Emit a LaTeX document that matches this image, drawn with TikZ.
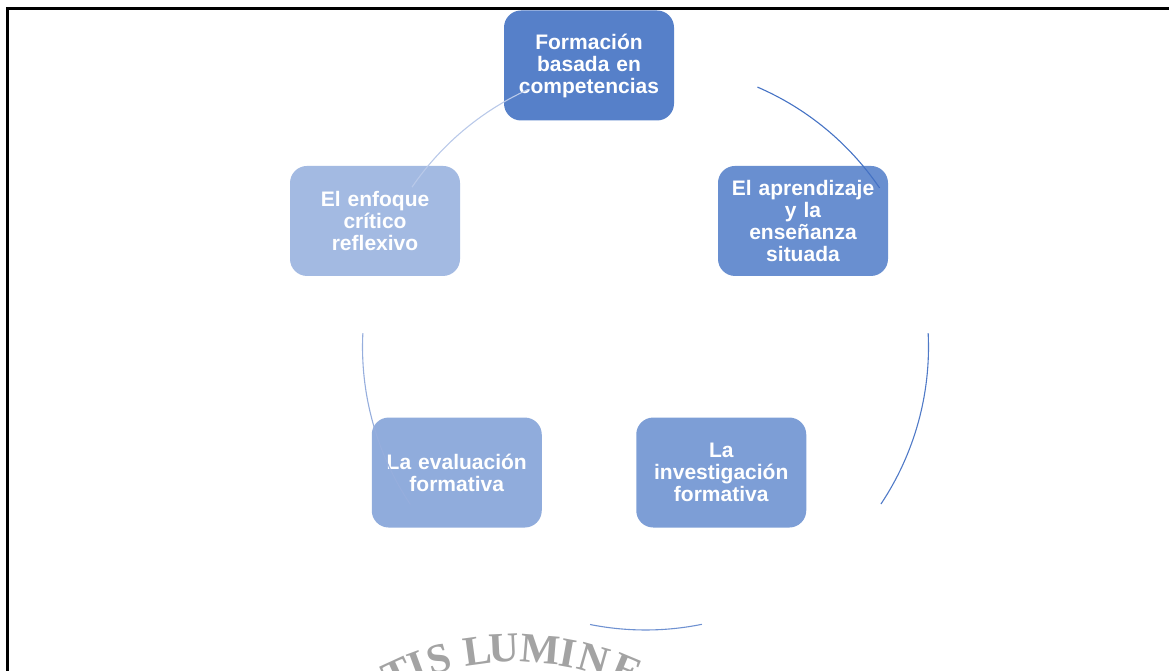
\documentclass[tikz,border=0pt]{standalone}
\usepackage{fontspec}
\setmainfont{Liberation Sans}
\newfontfamily\sealfont{Liberation Serif}
\usetikzlibrary{arrows.meta}
\definecolor{boxA}{RGB}{86,128,201}
\definecolor{boxB}{RGB}{105,143,208}
\definecolor{boxC}{RGB}{125,158,214}
\definecolor{boxD}{RGB}{144,172,220}
\definecolor{boxE}{RGB}{163,186,226}
\definecolor{arcA}{RGB}{68,114,196}
\definecolor{arcB}{RGB}{80,122,199}
\definecolor{arcC}{RGB}{110,145,209}
\definecolor{arcD}{RGB}{150,174,221}
\definecolor{arcE}{RGB}{185,201,233}

\begin{document}
\begin{tikzpicture}[x=1pt,y=1pt,semithick,
				box/.style={rectangle,rounded corners=17pt,minimum width=170pt,minimum height=110pt,
					inner sep=0pt,text width=166pt,align=center,text=white,
					font=\bfseries\fontsize{21}{22}\selectfont},
				ring/.style={line width=1.1pt},
				seal/.style={anchor=base,inner sep=0pt,text=black!36,font=\sealfont\bfseries\fontsize{42}{42}\selectfont}]
				\useasboundingbox (0,0) rectangle (1169,671);
				
				\coordinate (O) at (589,380.5);
				\coordinate (R) at (645.5,324);
				\coordinate (W) at (516.5,-263);
				
				% watermark
				\foreach \ch/\ang [count=\k] in {T/114.6,I/110.4,S/105.8,L/97.8,U/92.6,M/85.2,I/79.6,N/74.2,E/67.4}
					\node[seal,rotate=\ang-90] (w\k) at ([shift={(\ang:272)}]W) {\ch};
				
				% frame
				\draw[line width=3pt] (7,-5) -- (7,662) -- (1175,662);
				
				\node[box,fill=boxA] (F) at ([shift={(90:225)}]O)   {Formación\\basada en\\competencias};
				\node[box,fill=boxB] (S) at ([shift={(18:225)}]O)   {El aprendizaje\\y la\\enseñanza\\situada};
				\node[box,fill=boxC] (I) at ([shift={(-54:225)}]O)  {La\\investigación\\formativa};
				\node[box,fill=boxD] (E) at ([shift={(-126:225)}]O) {La evaluación\\formativa};
				\node[box,fill=boxE] (C) at ([shift={(162:225)}]O)  {El enfoque\\crítico\\reflexivo};
				
				\foreach \s/\e/\c in {66.7/34.2/arcA,2.8/-33.7/arcB,-78.5/-101.3/arcC,-146.2/-182.8/arcD,145.6/114.6/arcE}
					\draw[ring,\c] ([shift={(\s:283)}]R) arc (\s:\e:283);
				\end{tikzpicture}
\end{document}
